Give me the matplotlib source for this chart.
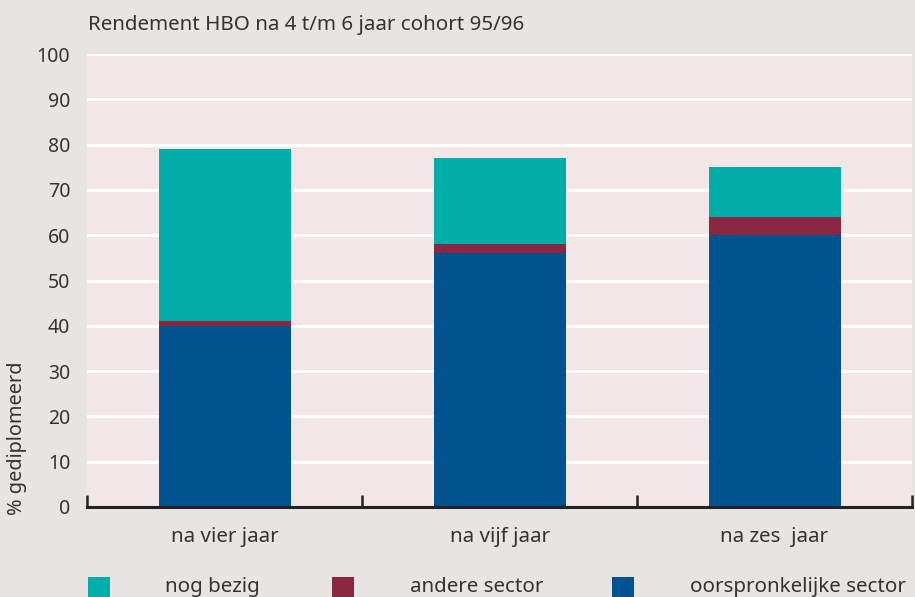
import matplotlib.pyplot as plt
from matplotlib.patches import Rectangle
import numpy as np

plt.rcParams['font.family'] = ['Noto Sans', 'DejaVu Sans']

categories = ["na vier jaar", "na vijf jaar", "na zes  jaar"]
oorspronkelijk = [40, 56, 60]
andere = [1, 2, 4]
nog_bezig = [38, 19, 11]

series_names = ["nog bezig", "andere sector", "oorspronkelijke sector"]
c_teal = "#00ADA9"
c_red = "#8B2642"
c_blue = "#00538E"

W, H = 915, 597
fig = plt.figure(figsize=(W / 100, H / 100), dpi=100, facecolor="#E8E4E1")
ax = fig.add_axes([87 / W, 1 - 507 / H, 825 / W, 453 / H])
ax.set_facecolor("#F2E6E6")

x = np.arange(len(categories))
bw = 0.48
base = np.zeros(len(categories))
for vals, col in [(oorspronkelijk, c_blue), (andere, c_red), (nog_bezig, c_teal)]:
    ax.bar(x, vals, bw, bottom=base, color=col, zorder=3)
    base = base + np.array(vals)

ax.set_xlim(-0.5, 2.5)
ax.set_ylim(0, 100)
ax.set_yticks(range(0, 101, 10))
for v in range(10, 101, 10):
    ax.axhline(v, color="white", lw=2.2, zorder=2)

ax.set_xticks([-0.5, 0.5, 1.5, 2.5])
ax.set_xticklabels([])
ax.tick_params(axis="x", direction="in", length=9, width=1.8, color="#222222")
ax.tick_params(axis="y", length=0, labelsize=14, pad=12, labelcolor="#333333")
for s in ["top", "right", "left"]:
    ax.spines[s].set_visible(False)
ax.spines["bottom"].set_linewidth(2.2)
ax.spines["bottom"].set_color("#222222")
ax.spines["bottom"].set_zorder(4)

fs = 14.8
for i, c in enumerate(categories):
    ax.text(x[i], -6.7, c, ha="center", va="center", fontsize=fs, color="#333333")

fig.text(88 / W, 1 - 25 / H, "Rendement HBO na 4 t/m 6 jaar cohort 95/96",
         ha="left", va="center", fontsize=fs, color="#333333")
fig.text(17 / W, 1 - 515 / H, "% gediplomeerd", rotation=90, ha="center", va="bottom",
         fontsize=14.3, color="#333333")

# legend
leg_sq = [88, 332, 612]
leg_tx = [165, 410, 690]
for name, col, sx, tx in zip(series_names, [c_teal, c_red, c_blue], leg_sq, leg_tx):
    fig.patches.append(Rectangle((sx / W, 0), 22 / W, 20 / H, transform=fig.transFigure,
                                 facecolor=col, edgecolor="none"))
    fig.text(tx / W, 1 - 587 / H, name, ha="left", va="center", fontsize=fs, color="#333333")

fig.savefig("out.png", dpi=100, facecolor=fig.get_facecolor())
